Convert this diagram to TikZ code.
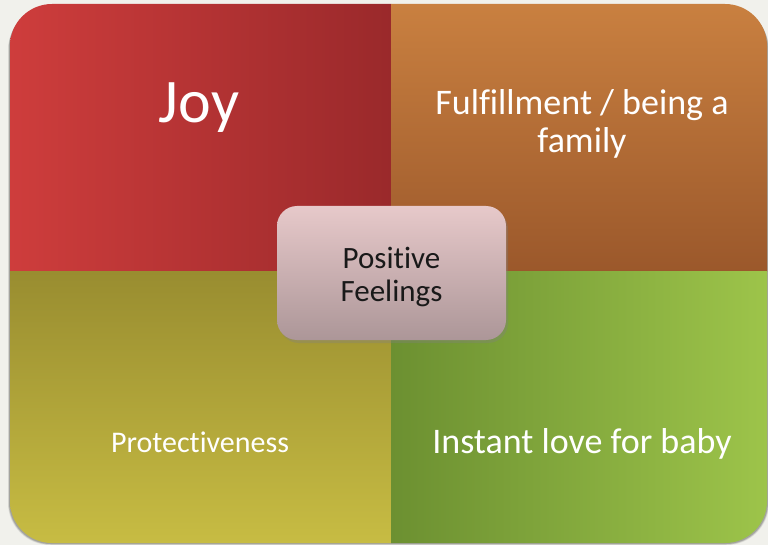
\documentclass[tikz,border=0pt]{standalone}
\usepackage{fontspec}
\setmainfont{Carlito}[Ligatures={NoCommon,NoContextual,NoRare}]
\usetikzlibrary{shadows}

\definecolor{paper}{HTML}{F1F1EC}
\definecolor{joyA}{HTML}{CE3D3C}
\definecolor{joyB}{HTML}{9A292B}
\definecolor{famA}{HTML}{C98040}
\definecolor{famB}{HTML}{9B582B}
\definecolor{proA}{HTML}{998D30}
\definecolor{proB}{HTML}{C7BC43}
\definecolor{babA}{HTML}{6C9031}
\definecolor{babB}{HTML}{9DC44A}
\definecolor{hubA}{HTML}{E7C9CA}
\definecolor{hubB}{HTML}{AC9698}

\begin{document}
\begin{tikzpicture}[x=1pt,y=-1pt,
		every node/.style={text=white,align=center},
		hub/.style={rounded corners=20pt,minimum width=229pt,minimum height=134pt,
				top color=hubA,bottom color=hubB,
				drop shadow={shadow xshift=2pt,shadow yshift=-3pt,opacity=.35}}]
		\fill[paper] (0,0) rectangle (768,545);
		\useasboundingbox (0,0) rectangle (768,545);

		% soft shadow under the board
		\foreach \o/\a in {4/.08,3/.12,2/.16} {
				\fill[black,opacity=\a,rounded corners=42pt] (10-\o/2,4+\o) rectangle (767+\o/2,543+\o/2);
			}

		% the four quarters
		\begin{scope}
			\clip[rounded corners=42pt] (10,4) rectangle (767,543);
			\shade[left color=joyA,right color=joyB] (10,4) rectangle (391,272);
			\shade[top color=famA,bottom color=famB] (391,4) rectangle (767,272);
			\shade[top color=proA,bottom color=proB] (10,272) rectangle (391,543);
			\shade[left color=babA,right color=babB] (391,272) rectangle (767,543);
		\end{scope}

		\node[font=\fontsize{62}{62}\selectfont,anchor=base] (joy) at (199,123) {Joy};
		\node[font=\fontsize{36}{38}\selectfont] (family) at (582,124) {Fulfillment / being a\\family};
		\node[font=\fontsize{30}{30}\selectfont,anchor=base] (protect) at (200,452) {Protectiveness};
		\node[font=\fontsize{36}{36}\selectfont,anchor=base] (love) at (582,453) {Instant love for baby};

		\node[hub] (feel) at (391.5,273) {};
		\node[text=black!90,font=\fontsize{31}{33}\selectfont] (feeltext) at (391.5,277) {Positive\\Feelings};
	\end{tikzpicture}
\end{document}
